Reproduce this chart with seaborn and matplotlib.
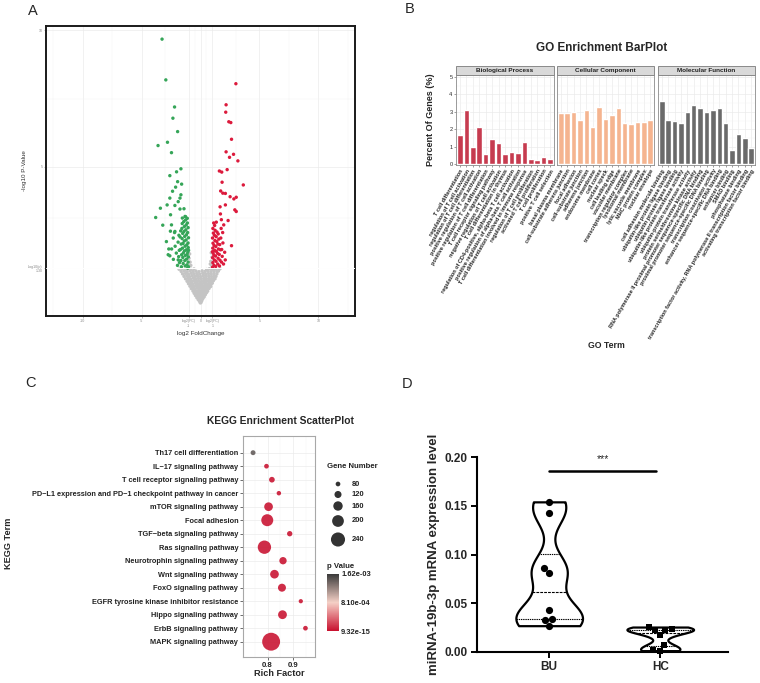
import numpy as np
import pandas as pd
import matplotlib
matplotlib.use("Agg")
import matplotlib.pyplot as plt
import seaborn as sns
from matplotlib.colors import LinearSegmentedColormap, Normalize
from matplotlib.patches import Rectangle
from matplotlib.cm import ScalarMappable

# ---------------- data ----------------
# A: volcano (log2 FC, -log10 p)
down_pts = [(-3.26, 9.67), (-2.94, 8.18), (-2.2, 7.19), (-2.34, 6.78), (-1.94, 6.29), (-3.6, 5.78),
            (-2.8, 5.9), (-2.46, 5.52), (-1.66, 4.93), (-2.03, 4.82), (-2.6, 4.68), (-1.94, 4.46),
            (-2.11, 4.26), (-1.6, 4.37), (-2.37, 4.11), (-1.66, 3.98), (-1.74, 3.86), (-2.6, 3.86),
            (-1.89, 3.73), (-2.83, 3.61), (-2.17, 3.59), (-3.4, 3.49), (-1.4, 3.47), (-1.74, 3.46),
            (-3.8, 3.15), (-2.54, 3.25), (-3.2, 2.87), (-1.31, 3.19), (-1.54, 3.13),
            (-2.89, 2.27), (-2.69, 2.0), (-2.17, 2.64), (-2.46, 2.88), (-2.74, 1.79), (-2.31, 2.4),
            (-1.02, 1.35), (-1.05, 1.52), (-1.03, 1.71), (-1.08, 1.88), (-1.04, 2.05), (-1.06, 2.22),
            (-1.02, 2.41), (-1.09, 2.6), (-1.05, 2.78), (-1.11, 2.95), (-1.15, 1.42), (-1.18, 1.63),
            (-1.14, 1.8), (-1.2, 1.97), (-1.16, 2.15), (-1.22, 2.33), (-1.19, 2.52), (-1.24, 2.7),
            (-1.21, 2.88), (-1.26, 3.06), (-1.3, 1.38), (-1.33, 1.58), (-1.29, 1.76), (-1.36, 1.93),
            (-1.31, 2.1), (-1.38, 2.29), (-1.34, 2.46), (-1.4, 2.64), (-1.37, 2.82), (-1.42, 3.0),
            (-1.47, 1.47), (-1.5, 1.69), (-1.45, 1.86), (-1.53, 2.03), (-1.48, 2.2), (-1.56, 2.38),
            (-1.51, 2.57), (-1.58, 2.75), (-1.55, 2.93), (-1.62, 1.35), (-1.66, 1.58), (-1.6, 1.79),
            (-1.7, 1.98), (-1.64, 2.18), (-1.73, 2.44), (-1.68, 2.66), (-1.78, 1.5), (-1.85, 1.72),
            (-1.8, 1.95), (-1.9, 2.25), (-1.83, 2.5), (-1.95, 1.4), (-2.05, 1.85), (-2.15, 2.1),
            (-2.3, 1.62), (-2.45, 2.0), (-2.6, 1.75), (-2.2, 2.6), (-2.55, 2.65), (-1.12, 3.12),
            (-1.27, 3.18), (-1.09, 1.3), (-1.01, 1.95), (-1.89, 1.6)]
up_pts = [(3.0, 8.04), (2.17, 7.27), (2.14, 7.0), (2.4, 6.65), (2.57, 6.62), (2.63, 6.01),
          (2.17, 5.55), (2.8, 5.46), (2.46, 5.35), (3.17, 5.22), (2.26, 4.9), (1.6, 4.85),
          (1.8, 4.81), (1.83, 4.44), (3.63, 4.34), (1.71, 4.12), (1.89, 4.04), (2.11, 4.03),
          (2.51, 3.91), (3.03, 3.89), (2.83, 3.83), (1.66, 3.54), (2.11, 3.61), (2.91, 3.43),
          (3.03, 3.37), (1.69, 3.28), (2.34, 3.04), (1.77, 3.07), (2.63, 2.12), (1.34, 2.98),
          (1.97, 2.88),
          (1.02, 1.33), (1.05, 1.5), (1.03, 1.68), (1.07, 1.86), (1.04, 2.03), (1.06, 2.21),
          (1.02, 2.4), (1.09, 2.58), (1.05, 2.75), (1.14, 1.4), (1.17, 1.6), (1.13, 1.78),
          (1.2, 1.95), (1.15, 2.13), (1.22, 2.31), (1.18, 2.5), (1.24, 2.68), (1.2, 2.86),
          (1.29, 1.36), (1.32, 1.55), (1.28, 1.74), (1.35, 1.91), (1.3, 2.09), (1.38, 2.27),
          (1.33, 2.45), (1.4, 2.62), (1.46, 1.45), (1.49, 1.66), (1.44, 1.84), (1.52, 2.0),
          (1.47, 2.18), (1.55, 2.36), (1.5, 2.55), (1.61, 1.38), (1.65, 1.59), (1.59, 1.8),
          (1.69, 1.97), (1.63, 2.16), (1.72, 2.4), (1.78, 1.52), (1.84, 1.73), (1.8, 1.98),
          (1.9, 2.22), (1.95, 1.45), (2.05, 1.88), (2.1, 1.6), (1.88, 2.6), (1.75, 2.75),
          (1.12, 2.95), (1.01, 1.9)]
ns_pts = [(-0.02, 0.03), (0.04, 0.04), (-0.09, 0.09), (0.01, 0.08), (0.1, 0.1),
          (-0.2, 0.15), (-0.07, 0.16), (0.06, 0.14), (0.18, 0.17),
          (-0.31, 0.22), (-0.18, 0.23), (-0.04, 0.21), (0.09, 0.24), (0.22, 0.22), (0.31, 0.25),
          (-0.43, 0.3), (-0.29, 0.31), (-0.13, 0.29), (0.01, 0.32), (0.14, 0.3), (0.28, 0.31), (0.41, 0.33),
          (-0.54, 0.38), (-0.39, 0.39), (-0.23, 0.37), (-0.09, 0.4), (0.06, 0.38), (0.2, 0.39), (0.35, 0.37),
          (0.51, 0.4),
          (-0.64, 0.46), (-0.49, 0.47), (-0.32, 0.45), (-0.17, 0.48), (-0.02, 0.46), (0.13, 0.47),
          (0.28, 0.45), (0.44, 0.48), (0.61, 0.46),
          (-0.77, 0.55), (-0.61, 0.56), (-0.45, 0.54), (-0.28, 0.57), (-0.11, 0.55), (0.07, 0.56),
          (0.24, 0.54), (0.41, 0.57), (0.57, 0.55), (0.73, 0.56),
          (-0.9, 0.64), (-0.71, 0.65), (-0.53, 0.63), (-0.35, 0.66), (-0.16, 0.64), (0.03, 0.65),
          (0.21, 0.63), (0.39, 0.66), (0.57, 0.64), (0.75, 0.65), (0.87, 0.63),
          (-1.02, 0.73), (-0.83, 0.74), (-0.63, 0.72), (-0.44, 0.75), (-0.25, 0.73), (-0.06, 0.74),
          (0.15, 0.72), (0.34, 0.75), (0.53, 0.73), (0.72, 0.74), (0.9, 0.72), (1.0, 0.75),
          (-1.14, 0.82), (-0.93, 0.83), (-0.73, 0.81), (-0.53, 0.84), (-0.33, 0.82), (-0.13, 0.83),
          (0.09, 0.81), (0.29, 0.84), (0.49, 0.82), (0.69, 0.83), (0.89, 0.81), (1.09, 0.84),
          (-1.27, 0.91), (-1.04, 0.92), (-0.83, 0.9), (-0.61, 0.93), (-0.39, 0.91), (-0.18, 0.92),
          (0.06, 0.9), (0.28, 0.93), (0.5, 0.91), (0.72, 0.92), (0.94, 0.9), (1.15, 0.93), (1.23, 0.91),
          (-1.4, 1.0), (-1.16, 1.01), (-0.93, 0.99), (-0.71, 1.02), (-0.48, 1.0), (-0.25, 1.01),
          (0.01, 0.99), (0.24, 1.02), (0.47, 1.0), (0.7, 1.01), (0.93, 0.99), (1.16, 1.02), (1.31, 1.0),
          (-1.52, 1.09), (-1.27, 1.1), (-1.03, 1.08), (-0.79, 1.11), (-0.55, 1.09), (-0.31, 1.1),
          (-0.07, 1.08), (0.19, 1.11), (0.43, 1.09), (0.67, 1.1), (0.91, 1.08), (1.15, 1.11), (1.39, 1.09),
          (-1.64, 1.18), (-1.38, 1.19), (-1.13, 1.17), (-0.88, 1.2), (-0.63, 1.18), (-0.38, 1.19),
          (-0.13, 1.17), (0.14, 1.2), (0.39, 1.18), (0.64, 1.19), (0.89, 1.17), (1.14, 1.2),
          (1.39, 1.18), (1.51, 1.19),
          (-1.82, 1.26), (-1.56, 1.27), (-1.31, 1.25), (-1.06, 1.28), (-0.81, 1.26), (-0.55, 1.27),
          (0.52, 1.25), (0.76, 1.28), (1.01, 1.26), (1.26, 1.27), (1.56, 1.25), (1.66, 1.28),
          (-0.96, 1.38), (-0.88, 1.52), (-0.97, 1.66), (-0.92, 1.82), (-0.82, 1.4),
          (0.94, 1.4), (0.88, 1.55), (0.97, 1.7), (0.91, 1.86), (0.83, 1.45)]

# B: GO enrichment (percent of genes)
bp_terms = ["T cell differentiation", "regulation of T cell activation",
            "regulation of T cell differentiation", "positive regulation of T cell activation",
            "positive regulation of T cell differentiation", "T cell receptor signaling pathway",
            "negative regulation of T cell activation", "T cell differentiation in thymus",
            "regulation of CD4-positive, alpha-beta T cell activation",
            "positive regulation of alpha-beta T cell activation",
            "T cell differentiation involved in immune response", "regulation of T cell proliferation",
            "activated T cell proliferation", "T cell proliferation", "positive T cell selection"]
bp_vals = [1.65, 3.1, 0.95, 2.15, 0.58, 1.45, 1.2, 0.58, 0.7, 0.65, 1.27, 0.28, 0.22, 0.42, 0.3]
cc_terms = ["basal plasma membrane", "cell-substrate adherens junction", "focal adhesion",
            "cell-substrate junction", "adherens junction", "endosome membrane", "cell cortex",
            "nuclear speck", "cell leading edge", "vacuolar membrane", "transcription regulator complex",
            "lysosomal membrane", "lytic vacuole membrane", "MHC protein complex", "nuclear envelope"]
cc_vals = [2.95, 2.95, 2.98, 2.55, 3.1, 2.1, 3.3, 2.6, 2.8, 3.22, 2.35, 2.28, 2.4, 2.4, 2.55]
mf_terms = ["cell adhesion molecule binding", "ubiquitin-like protein ligase binding",
            "ubiquitin protein ligase binding", "ubiquitin-like protein transferase activity",
            "ubiquitin-protein transferase activity", "protein serine/threonine kinase activity",
            "RNA polymerase II proximal promoter sequence-specific DNA binding",
            "proximal promoter sequence-specific DNA binding", "transcription coactivator activity",
            "enhancer sequence-specific DNA binding", "enhancer binding", "SMAD binding",
            "phosphatase binding",
            "transcription factor activity, RNA polymerase II transcription factor binding",
            "activating transcription factor binding"]
mf_vals = [3.65, 2.52, 2.47, 2.38, 3.0, 3.38, 3.2, 3.0, 3.1, 3.2, 2.33, 0.8, 1.75, 1.48, 0.9]
go_cats = ["Biological Process", "Cellular Component", "Molecular Function"]

# C: KEGG enrichment
kegg_terms = ["Th17 cell differentiation", "IL\u221217 signaling pathway",
              "T cell receptor signaling pathway",
              "PD\u2212L1 expression and PD\u22121 checkpoint pathway in cancer",
              "mTOR signaling pathway", "Focal adhesion", "TGF\u2212beta signaling pathway",
              "Ras signaling pathway", "Neurotrophin signaling pathway", "Wnt signaling pathway",
              "FoxO signaling pathway", "EGFR tyrosine kinase inhibitor resistance",
              "Hippo signaling pathway", "ErbB signaling pathway", "MAPK signaling pathway"]
kegg_rich = [0.744, 0.796, 0.817, 0.844, 0.804, 0.799, 0.886, 0.788, 0.860, 0.827, 0.856, 0.929,
             0.858, 0.947, 0.814]
kegg_genes = [84, 80, 97, 76, 148, 204, 91, 227, 125, 148, 136, 72, 150, 80, 305]
kegg_p = [1.45e-3, 2.1e-6, 5e-7, 3e-6, 1e-8, 2e-10, 4e-8, 1e-11, 3e-9, 6e-9, 2e-9, 5e-9, 1e-10,
          4e-10, 9.32e-15]
p_ticks = [9.32e-15, 8.10e-4, 1.62e-3]
p_tick_labels = ["9.32e-15", "8.10e-04", "1.62e-03"]
size_levels = [80, 120, 160, 200, 240]

# D: miRNA expression
groups = ["BU", "HC"]
bu_vals = [0.154, 0.143, 0.086, 0.081, 0.043, 0.034, 0.033, 0.027]
hc_vals = [0.0256, 0.0238, 0.0226, 0.0222, 0.0172, 0.0075, 0.0024, 0.0014]

# ---------------- style ----------------
sns.set_theme(style="white")
plt.rcParams["font.family"] = ["Liberation Sans", "DejaVu Sans"]

W, H = 760, 683
fig = plt.figure(figsize=(W / 100, H / 100), dpi=100)


def box(l, t, r, b):
    return [l / W, 1 - b / H, (r - l) / W, (b - t) / H]


def ftext(x, y, s, **kw):
    fig.text(x / W, 1 - y / H, s, **kw)


for letter, lx, ly in [("A", 33, 11), ("B", 410, 9), ("C", 30, 383), ("D", 407, 384)]:
    ftext(lx, ly, letter, fontsize=10.5, ha="center", va="center")

# ---------------- A: volcano ----------------
vdf = pd.concat([
    pd.DataFrame(ns_pts, columns=["fc", "p"]).assign(grp="ns"),
    pd.DataFrame(down_pts, columns=["fc", "p"]).assign(grp="down"),
    pd.DataFrame(up_pts, columns=["fc", "p"]).assign(grp="up"),
], ignore_index=True)

axA = fig.add_axes(box(46, 26, 355, 316))
sns.scatterplot(data=vdf, x="fc", y="p", hue="grp",
                palette={"ns": "#c4c4c4", "down": "#35a558", "up": "#dc1a3c"},
                s=6, linewidth=0, legend=False, ax=axA, zorder=2)
axA.axhline(1.3, color="white", lw=0.7, zorder=3)
axA.set_xlim(-13.1, 13.1)
axA.set_ylim(-0.45, 10.15)
axA.set_xticks([-10, -5, -1, 0, 1, 5, 10])
axA.set_xticklabels(["-10", "-5", "log2(FC)\n-1", "0", "log2(FC)\n1", "5", "10"])
axA.set_yticks([1.3, 5, 10])
axA.set_yticklabels(["-log10(p)\n1.30", "5", "10"])
axA.set_xticks([-12.5, -7.5, -3, -0.5, 0.5, 3, 7.5, 12.5], minor=True)
axA.set_yticks([3.15, 7.5], minor=True)
axA.tick_params(axis="both", which="major", labelsize=2.6, labelcolor="#888888", length=1.5,
                width=0.4, color="#888888", pad=1, bottom=True, left=True)
axA.tick_params(axis="both", which="minor", length=0)
axA.grid(True, which="major", color="#ebebeb", lw=0.5)
axA.grid(True, which="minor", color="#f3f3f3", lw=0.35)
axA.set_axisbelow(True)
for sp in axA.spines.values():
    sp.set_color("#1a1a1a")
    sp.set_linewidth(1.4)
axA.set_xlabel("log2 FoldChange", fontsize=4.5, color="#333333", labelpad=2)
axA.set_ylabel("-log10 P-Value", fontsize=4.5, color="#333333")
axA.yaxis.set_label_coords(-0.062, 0.5)

# ---------------- B: GO bar plot ----------------
go_sets = [(bp_terms, bp_vals, "#c63b4f"), (cc_terms, cc_vals, "#f5b48f"), (mf_terms, mf_vals, "#6a6a6a")]
go_lefts = [(456, 554), (557, 654), (658, 755)]
for i, ((terms, vals, col), (l, r)) in enumerate(zip(go_sets, go_lefts)):
    ax = fig.add_axes(box(l, 75, r, 165))
    sns.barplot(x=terms, y=vals, color=col, saturation=1, width=0.86, ax=ax, zorder=2)
    ax.set_xlim(-0.6, 14.6)
    ax.set_ylim(-0.06, 5.12)
    ax.set_yticks(range(6))
    ax.set_yticks(np.arange(0.5, 5, 1), minor=True)
    ax.set_xticks(range(len(terms)))
    ax.set_xticklabels(terms, rotation=60, ha="right", rotation_mode="anchor",
                       fontsize=3.3, fontweight="bold")
    ax.grid(True, which="major", color="#ebebeb", lw=0.5)
    ax.grid(True, which="minor", axis="y", color="#f3f3f3", lw=0.35)
    ax.set_axisbelow(True)
    ax.tick_params(axis="both", which="major", length=1.5, width=0.4, color="#555555", pad=1,
                   labelsize=4, bottom=True, left=True)
    ax.tick_params(axis="y", which="minor", length=0)
    for sp in ax.spines.values():
        sp.set_color("#8a8a8a")
        sp.set_linewidth(0.6)
    ax.set_xlabel("")
    ax.add_patch(Rectangle((0, 1.0), 1, 0.1, transform=ax.transAxes, clip_on=False,
                           facecolor="#d9d9d9", edgecolor="#7a7a7a", lw=0.6))
    ax.text(0.5, 1.05, go_cats[i], transform=ax.transAxes, ha="center", va="center",
            fontsize=4.6, fontweight="bold", color="#222222")
    if i == 0:
        ax.set_ylabel("Percent Of Genes (%)", fontsize=6.5, fontweight="bold")
        ax.yaxis.set_label_coords(-0.215, 0.5)
    else:
        ax.tick_params(axis="y", labelleft=False, left=False)
        ax.set_ylabel("")

ftext(602, 48, "GO Enrichment BarPlot", fontsize=8.5, fontweight="bold", ha="center", va="center")
ftext(606, 345, "GO Term", fontsize=6.3, fontweight="bold", ha="center", va="center")

# ---------------- C: KEGG scatter ----------------
kdf = pd.DataFrame({"term": kegg_terms, "rich": kegg_rich, "genes": kegg_genes, "p": kegg_p})
pcmap = LinearSegmentedColormap.from_list("pv", ["#c8102e", "#f5d0c6", "#3a3a3a"])
pnorm = Normalize(vmin=p_ticks[0], vmax=p_ticks[-1])


def gene_area(g):
    return (0.0587 * g * 0.72) ** 2


axC = fig.add_axes(box(243, 436, 315, 657))
sns.scatterplot(data=kdf, x="rich", y="term", size="genes",
                sizes={g: gene_area(g) for g in kegg_genes},
                hue="p", palette=pcmap, hue_norm=pnorm, alpha=0.88, linewidth=0,
                legend=False, ax=axC, zorder=3)
axC.set_ylim(14 + 15.3 / 13.5, -16.7 / 13.5)
axC.set_xlim(0.705, 0.984)
axC.set_xticks([0.8, 0.9])
axC.set_xticks([0.75, 0.85, 0.95], minor=True)
axC.grid(True, which="major", color="#ebebeb", lw=0.5)
axC.grid(True, which="minor", axis="x", color="#f3f3f3", lw=0.35)
axC.set_axisbelow(True)
axC.tick_params(axis="both", which="major", length=2, width=0.5, color="#333333", pad=1.5,
                bottom=True, left=True)
axC.tick_params(axis="x", which="minor", length=0)
axC.tick_params(axis="y", labelsize=5.3)
axC.tick_params(axis="x", labelsize=5.6)
for lab in axC.get_yticklabels() + axC.get_xticklabels():
    lab.set_fontweight("bold")
    lab.set_color("#222222")
for sp in axC.spines.values():
    sp.set_color("#a8a8a8")
    sp.set_linewidth(0.8)
axC.set_xlabel("")
axC.set_ylabel("")
ftext(280, 421, "KEGG Enrichment ScatterPlot", fontsize=7.4, fontweight="bold", ha="center", va="center")
ftext(9, 543, "KEGG Term", fontsize=6.6, fontweight="bold", ha="center", va="center", rotation=90)
ftext(279, 673, "Rich Factor", fontsize=6.6, fontweight="bold", ha="center", va="center")

# size legend
axL = fig.add_axes(box(322, 460, 380, 550))
axL.set_xlim(322, 380)
axL.set_ylim(550, 460)
axL.axis("off")
leg_y = [484, 494.5, 506, 521, 539.5]
axL.scatter([338] * len(size_levels), leg_y, s=[gene_area(v) for v in size_levels],
            color="#333333", linewidth=0, clip_on=False)
for v, yy in zip(size_levels, leg_y):
    axL.text(352, yy, str(v), fontsize=5.4, fontweight="bold", va="center", ha="left", color="#222222")
ftext(327, 467, "Gene Number", fontsize=5.6, fontweight="bold", ha="left", va="center", color="#222222")

# p value colorbar
ftext(327, 567, "p Value", fontsize=5.6, fontweight="bold", ha="left", va="center", color="#222222")
cax = fig.add_axes(box(327, 574, 339, 631))
cb = fig.colorbar(ScalarMappable(norm=pnorm, cmap=pcmap), cax=cax, ticks=p_ticks)
cb.set_ticklabels(p_tick_labels)
cb.outline.set_visible(False)
cax.tick_params(labelsize=5.4, length=0, pad=1.5)
for lab in cax.get_yticklabels():
    lab.set_fontweight("bold")
    lab.set_color("#222222")

# ---------------- D: violin ----------------
ddf = pd.DataFrame({"grp": ["BU"] * len(bu_vals) + ["HC"] * len(hc_vals),
                    "val": bu_vals + hc_vals})
axD = fig.add_axes(box(477, 457, 728, 652))
violin_kw = dict(x="grp", y="val", order=groups, cut=0, density_norm="width", width=0.6,
                 color="white", linecolor="black", linewidth=1.6, inner="quart",
                 inner_kws=dict(linewidth=0.8), ax=axD)
sns.violinplot(data=ddf[ddf.grp == "BU"], bw_adjust=0.5, **violin_kw)
sns.violinplot(data=ddf[ddf.grp == "HC"], bw_adjust=0.55, **violin_kw)
sns.swarmplot(data=ddf[ddf.grp == "BU"], x="grp", y="val", order=groups, color="black",
              size=5.2, marker="o", ax=axD, zorder=4)
sns.swarmplot(data=ddf[ddf.grp == "HC"], x="grp", y="val", order=groups, color="black",
              size=5.0, marker="s", ax=axD, zorder=4)
for coll in axD.collections:
    coll.set_clip_on(False)
axD.set_xlim(-0.65, 1.61)
axD.set_ylim(0, 0.2)
axD.set_yticks([0, 0.05, 0.10, 0.15, 0.20])
axD.set_yticklabels(["0.00", "0.05", "0.10", "0.15", "0.20"])
axD.plot([0, 0.96], [0.1856, 0.1856], color="black", lw=1.8, clip_on=False)
axD.text(0.48, 0.1975, "***", ha="center", va="center", fontsize=7.5, clip_on=False)
axD.spines["top"].set_visible(False)
axD.spines["right"].set_visible(False)
axD.spines["left"].set_linewidth(1.5)
axD.spines["bottom"].set_linewidth(1.5)
axD.spines["left"].set_color("black")
axD.spines["bottom"].set_color("black")
axD.tick_params(axis="both", length=4.5, width=1.4, color="black", labelsize=8.5, pad=2,
                bottom=True, left=True)
for lab in axD.get_yticklabels() + axD.get_xticklabels():
    lab.set_fontweight("bold")
axD.set_xlabel("")
axD.set_ylabel("miRNA-19b-3p mRNA expression level", fontsize=9.5, fontweight="bold")
axD.yaxis.set_label_coords(-0.148, 0.5)

fig.savefig("out.png", dpi=100, facecolor="white")
